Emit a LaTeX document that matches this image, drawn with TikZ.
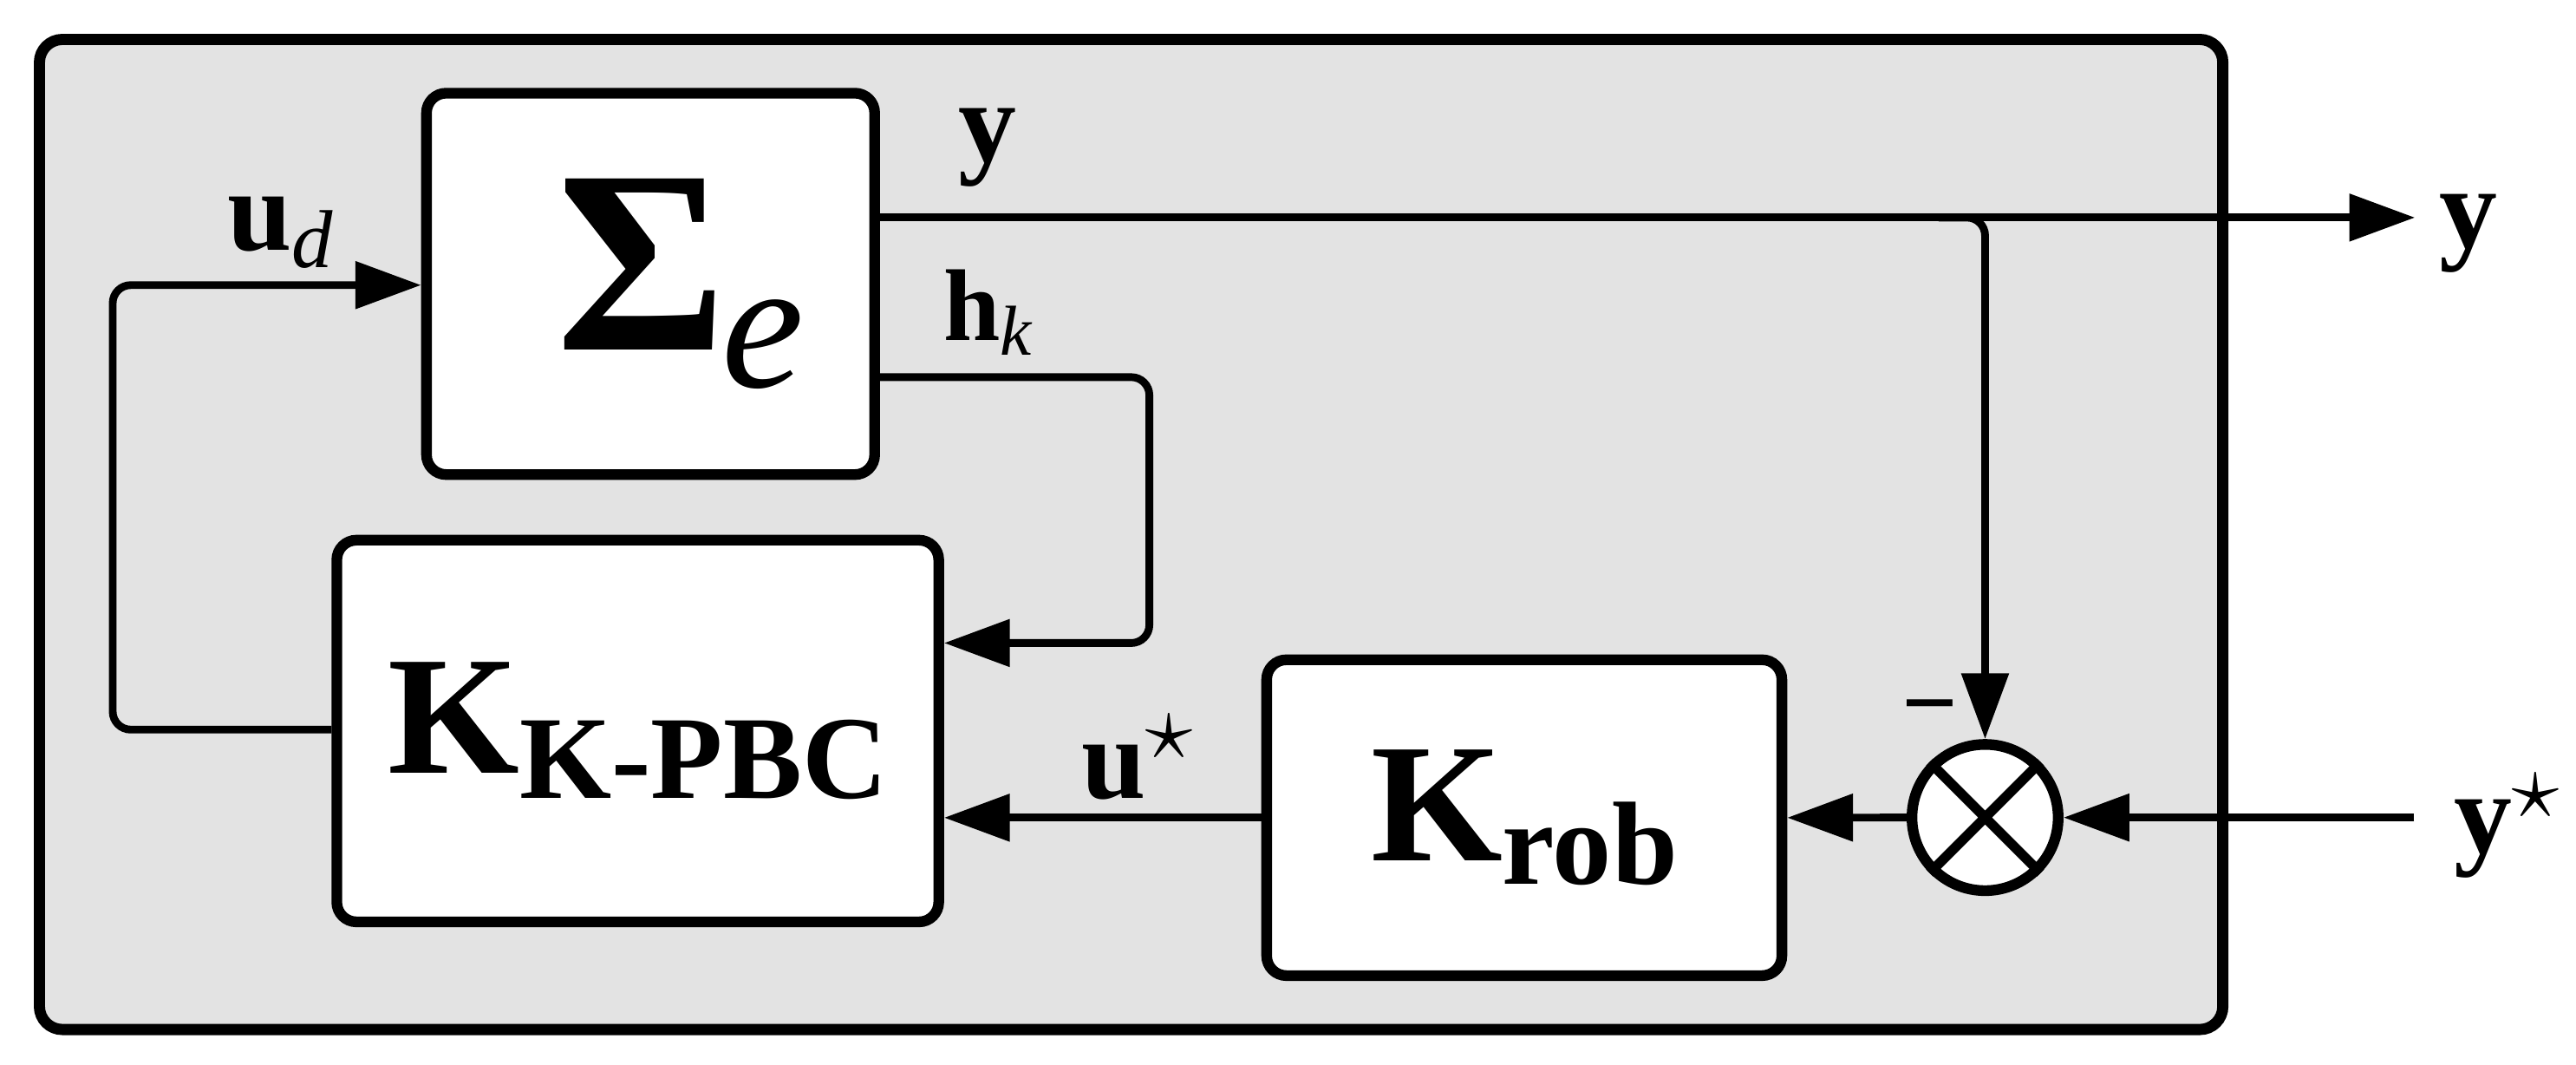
\RequirePackage{fix-cm}
\documentclass[tikz,border=0pt]{standalone}
\usepackage{fontspec}
\setmainfont{Liberation Serif}
\usetikzlibrary{arrows.meta}

\definecolor{panel}{gray}{0.89}
\newcommand\fsz[1]{\fontsize{#1}{#1}\selectfont}
\tikzset{
  frame/.style={draw, line width=6.8pt, rounded corners=14pt, fill=panel},
  blk/.style={draw, line width=6.5pt, rounded corners=12pt, fill=white, inner sep=0pt},
  conn/.style={line width=4.7pt, rounded corners=11pt},
  arr/.style={-{Triangle[length=40pt,width=28pt]}},
  lbl/.style={inner sep=0pt, anchor=base west},
}

\begin{document}
\begin{tikzpicture}[x=1pt,y=-1pt]
\useasboundingbox (0,0) rectangle (1568,647.58);

\node[frame, minimum width=1329pt, minimum height=602.5pt] (frm) at (688.5,325.25) {};

\node[blk, minimum width=272.8pt, minimum height=232.1pt] (sig) at (396,172.75)
  {\hspace*{36pt}{\fsz{159}\bfseries Σ}\kern-3pt\raisebox{-23pt}{\fsz{113}\itshape e}};
\node[blk, minimum width=366.4pt, minimum height=232.3pt] (kpbc) at (388.2,444.85)
  {{\fsz{103}\bfseries K}\raisebox{-15pt}{\fsz{72}\bfseries K-PBC}};
\node[blk, minimum width=313.6pt, minimum height=192.2pt] (krob) at (927.8,497.6)
  {{\fsz{103}\bfseries K}\raisebox{-14pt}{\fsz{72}\bfseries rob}};
\node[draw, circle, line width=6.5pt, fill=white, minimum size=89pt, inner sep=0pt] (sum) at (1208.3,497.5) {};
\draw[line width=6pt] (sum.north west) -- (sum.south east) (sum.north east) -- (sum.south west);

\coordinate (yout) at (1470,132.4);
\coordinate (br) at (1180,132.4);
\coordinate (hka) at (699.6,229.5);
\coordinate (hkb) at (699.6,391.3);
\coordinate (uda) at (68.6,444);
\coordinate (udb) at (68.6,173.5);
\coordinate (ystar) at (1469.5,497.5);

\draw[conn,arr] (sig.east |- yout) -- (yout);
\draw[conn,arr] (br) -| (sum.north);
\draw[conn,arr] (sig.east |- hka) -- (hka) -- (hkb) -- (kpbc.east |- hkb);
\draw[conn,arr] (kpbc.west |- uda) -- (uda) -- (udb) -- (sig.west |- udb);
\draw[conn,arr] (krob.west) -- (kpbc.east |- krob.west);
\draw[conn,arr] (sum.west) -- (krob.east);
\draw[conn,arr] (ystar) -- (sum.east);

\node[lbl] (ly1) at (583.2,98.2) {\fsz{70.6}\bfseries y};
\node[lbl] (ly2) at (1484.6,150.7) {\fsz{70.6}\bfseries y};
\node[lbl] (lhk) at (574.2,207.3) {\fsz{62}\bfseries h\raisebox{-9pt}{\fsz{43}\mdseries\itshape k}};
\node[lbl] (lud) at (138.1,152.2) {\fsz{70.6}\bfseries u\raisebox{-10.5pt}{\fsz{50}\mdseries\itshape d}};
\node[lbl] (lus) at (658,486) {\fsz{70.6}\bfseries u\raisebox{24pt}{\fsz{58}$\star$}};
\node[lbl] (lys) at (1493.6,518.8) {\fsz{70.6}\bfseries y\raisebox{21pt}{\fsz{58}$\star$}};
\node[inner sep=0pt, anchor=base] (minus) at (1174.6,448) {\fsz{60}\bfseries −};
\end{tikzpicture}
\end{document}
